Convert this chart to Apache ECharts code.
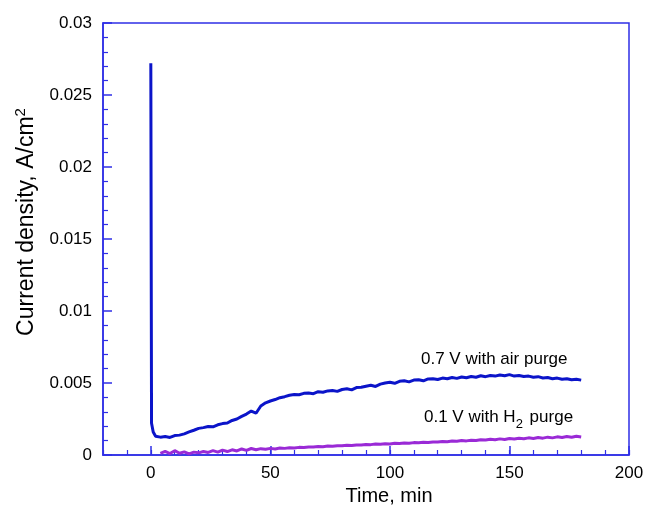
<!DOCTYPE html>
<html>
<head>
<meta charset="utf-8">
<script src="https://cdn.jsdelivr.net/npm/echarts@6/dist/echarts.min.js"></script>
<style>
  html, body { margin: 0; padding: 0; background: #fff; }
  #chart { width: 646px; height: 505px; }
</style>
</head>
<body>
<div id="chart"></div>
<script>
// time axis (min) for both traces
var timeAir = [0, 0.3, 1, 2,
    4, 6, 8, 10, 12, 14, 16, 18, 20, 22, 24, 26, 28, 30, 32, 34, 36, 38, 40, 42, 44, 46, 48, 50,
    52, 54, 56, 58, 60, 62, 64, 66, 68, 70, 72, 74, 76, 78, 80, 82, 84, 86, 88, 90, 92, 94, 96, 98, 100,
    102, 104, 106, 108, 110, 112, 114, 116, 118, 120, 122, 124, 126, 128, 130, 132, 134, 136, 138, 140,
    142, 144, 146, 148, 150, 152, 154, 156, 158, 160, 162, 164, 166, 168, 170, 172, 174, 176, 178, 180];
// 0.7 V with air purge, A/cm2
var airValues = [0.0272, 0.0022, 0.0016, 0.0013,
    0.00124, 0.00128, 0.00122, 0.00135, 0.00138, 0.00147, 0.00160, 0.00172, 0.00185, 0.00190, 0.00198, 0.00196,
    0.00210, 0.00218, 0.00222, 0.00240, 0.00250, 0.00268, 0.00284, 0.00305, 0.00290, 0.00340, 0.00362, 0.00375,
    0.00385, 0.00398, 0.00405, 0.00415, 0.00420, 0.00418, 0.00428, 0.00430, 0.00426, 0.00440, 0.00436, 0.00445,
    0.00448, 0.00442, 0.00455, 0.00460, 0.00452, 0.00468, 0.00470, 0.00478, 0.00484, 0.00476, 0.00492, 0.00500,
    0.00505, 0.00498, 0.00512, 0.00515, 0.00508, 0.00520, 0.00522, 0.00515, 0.00528, 0.00530, 0.00524, 0.00534,
    0.00530, 0.00538, 0.00532, 0.00542, 0.00536, 0.00545, 0.00540, 0.00550, 0.00544, 0.00552, 0.00548, 0.00556,
    0.00550, 0.00558, 0.00548, 0.00552, 0.00545, 0.00548, 0.00540, 0.00544, 0.00535, 0.00538, 0.00530, 0.00534,
    0.00526, 0.00530, 0.00522, 0.00526, 0.00520];

var timeH2 = [4, 6, 8, 10, 12, 14, 16, 18, 20, 22, 24, 26, 28, 30, 32, 34, 36, 38, 40, 42, 44, 46, 48, 50,
    52, 54, 56, 58, 60, 62, 64, 66, 68, 70, 72, 74, 76, 78, 80, 82, 84, 86, 88, 90, 92, 94, 96, 98, 100,
    102, 104, 106, 108, 110, 112, 114, 116, 118, 120, 122, 124, 126, 128, 130, 132, 134, 136, 138, 140,
    142, 144, 146, 148, 150, 152, 154, 156, 158, 160, 162, 164, 166, 168, 170, 172, 174, 176, 178, 180];
// 0.1 V with H2 purge, A/cm2
var h2Values = [0.00012, 0.00025, 0.00010, 0.00030, 0.00012, 0.00022, 0.00008, 0.00020, 0.00015, 0.00024,
    0.00018, 0.00030, 0.00020, 0.00034, 0.00024, 0.00036, 0.00028, 0.00042, 0.00032, 0.00045, 0.00036, 0.00044,
    0.00040, 0.00046, 0.00042, 0.00048, 0.00046, 0.00050, 0.00049, 0.00053, 0.00052, 0.00056, 0.00055, 0.00059,
    0.00058, 0.00062, 0.00061, 0.00065, 0.00064, 0.00068, 0.00066, 0.00070, 0.00069, 0.00073, 0.00072, 0.00076,
    0.00074, 0.00078, 0.00077, 0.00081, 0.00080, 0.00084, 0.00082, 0.00086, 0.00085, 0.00088, 0.00087, 0.00091,
    0.00090, 0.00094, 0.00092, 0.00097, 0.00095, 0.00100, 0.00098, 0.00103, 0.00101, 0.00106, 0.00104, 0.00109,
    0.00106, 0.00112, 0.00108, 0.00114, 0.00111, 0.00116, 0.00113, 0.00119, 0.00115, 0.00122, 0.00117, 0.00124,
    0.00119, 0.00126, 0.00121, 0.00128, 0.00123, 0.00130, 0.00125];

var xMajorTicks = [0, 50, 100, 150, 200];
var yTickLabels = ['0', '0.005', '0.01', '0.015', '0.02', '0.025', '0.03'];

function pairs(xs, ys) {
    return xs.map(function (x, i) { return [x, ys[i]]; });
}

var axisBlue = '#2f2fe6';
var font = '"Liberation Sans", Arial, sans-serif';

var option = {
    animation: false,
    grid: {
        left: 103, top: 23, right: 17, bottom: 50,
        outerBoundsMode: 'none', containLabel: false,
        show: true, borderColor: axisBlue, borderWidth: 1.5
    },
    xAxis: [
        {
            type: 'value', min: -20, max: 200, interval: 10,
            name: 'Time, min', nameLocation: 'middle', nameGap: 30,
            nameTextStyle: { fontFamily: font, fontSize: 20, color: '#000', padding: [0, 0, 0, 46] },
            axisLine: { onZero: false, lineStyle: { color: axisBlue, width: 1.5 } },
            axisTick: { inside: true, length: 5, lineStyle: { color: axisBlue, width: 1.2 } },
            axisLabel: {
                fontFamily: font, fontSize: 17, color: '#000', margin: 10,
                showMinLabel: true, showMaxLabel: true,
                formatter: function (v) { return xMajorTicks.indexOf(v) >= 0 ? String(v) : ''; }
            },
            splitLine: { show: false }
        },
        {
            type: 'value', min: -20, max: 200, position: 'bottom',
            axisLine: { show: false, onZero: false },
            axisTick: { inside: true, length: 9, customValues: xMajorTicks, lineStyle: { color: axisBlue, width: 1.5 } },
            axisLabel: { show: false },
            splitLine: { show: false }
        }
    ],
    yAxis: {
        type: 'value', min: 0, max: 0.03, interval: 0.005,
        name: 'Current density, A/cm{sup|2}', nameLocation: 'middle', nameGap: 62,
        nameTextStyle: {
            fontFamily: font, fontSize: 23, color: '#000', padding: [0, 0, 0, 34],
            rich: { sup: { fontFamily: font, fontSize: 15, color: '#000', verticalAlign: 'top', padding: [0, 0, 13, 0] } }
        },
        axisLine: { onZero: false, lineStyle: { color: axisBlue, width: 1.5 } },
        axisTick: { inside: true, length: 9, lineStyle: { color: axisBlue, width: 1.5 } },
        minorTick: { show: true, splitNumber: 5, length: 5, lineStyle: { color: axisBlue, width: 1.2 } },
        axisLabel: {
            fontFamily: font, fontSize: 17, color: '#000', margin: 11,
            formatter: function (v) { return yTickLabels[Math.round(v / 0.005)]; }
        },
        splitLine: { show: false }
    },
    series: [
        {
            type: 'line', name: '0.1 V with H2 purge', data: pairs(timeH2, h2Values),
            showSymbol: false, lineStyle: { color: '#9a2ad6', width: 3 }, z: 3
        },
        {
            type: 'line', name: '0.7 V with air purge', data: pairs(timeAir, airValues),
            showSymbol: false, lineStyle: { color: '#0b14c9', width: 3 }, z: 4
        }
    ],
    graphic: [
        {
            type: 'text', left: 421, top: 351,
            style: { text: '0.7 V with air purge', font: '17px ' + font, fill: '#000' }
        },
        {
            type: 'text', left: 424, top: 409,
            style: {
                text: '0.1 V with H{sub|2} purge', font: '17px ' + font, fill: '#000',
                rich: { sub: { font: '13px ' + font, fill: '#000', padding: [14, 2, 0, 0] } }
            }
        }
    ]
};

var myChart = echarts.init(document.getElementById('chart'));
myChart.setOption(option);
</script>
</body>
</html>
